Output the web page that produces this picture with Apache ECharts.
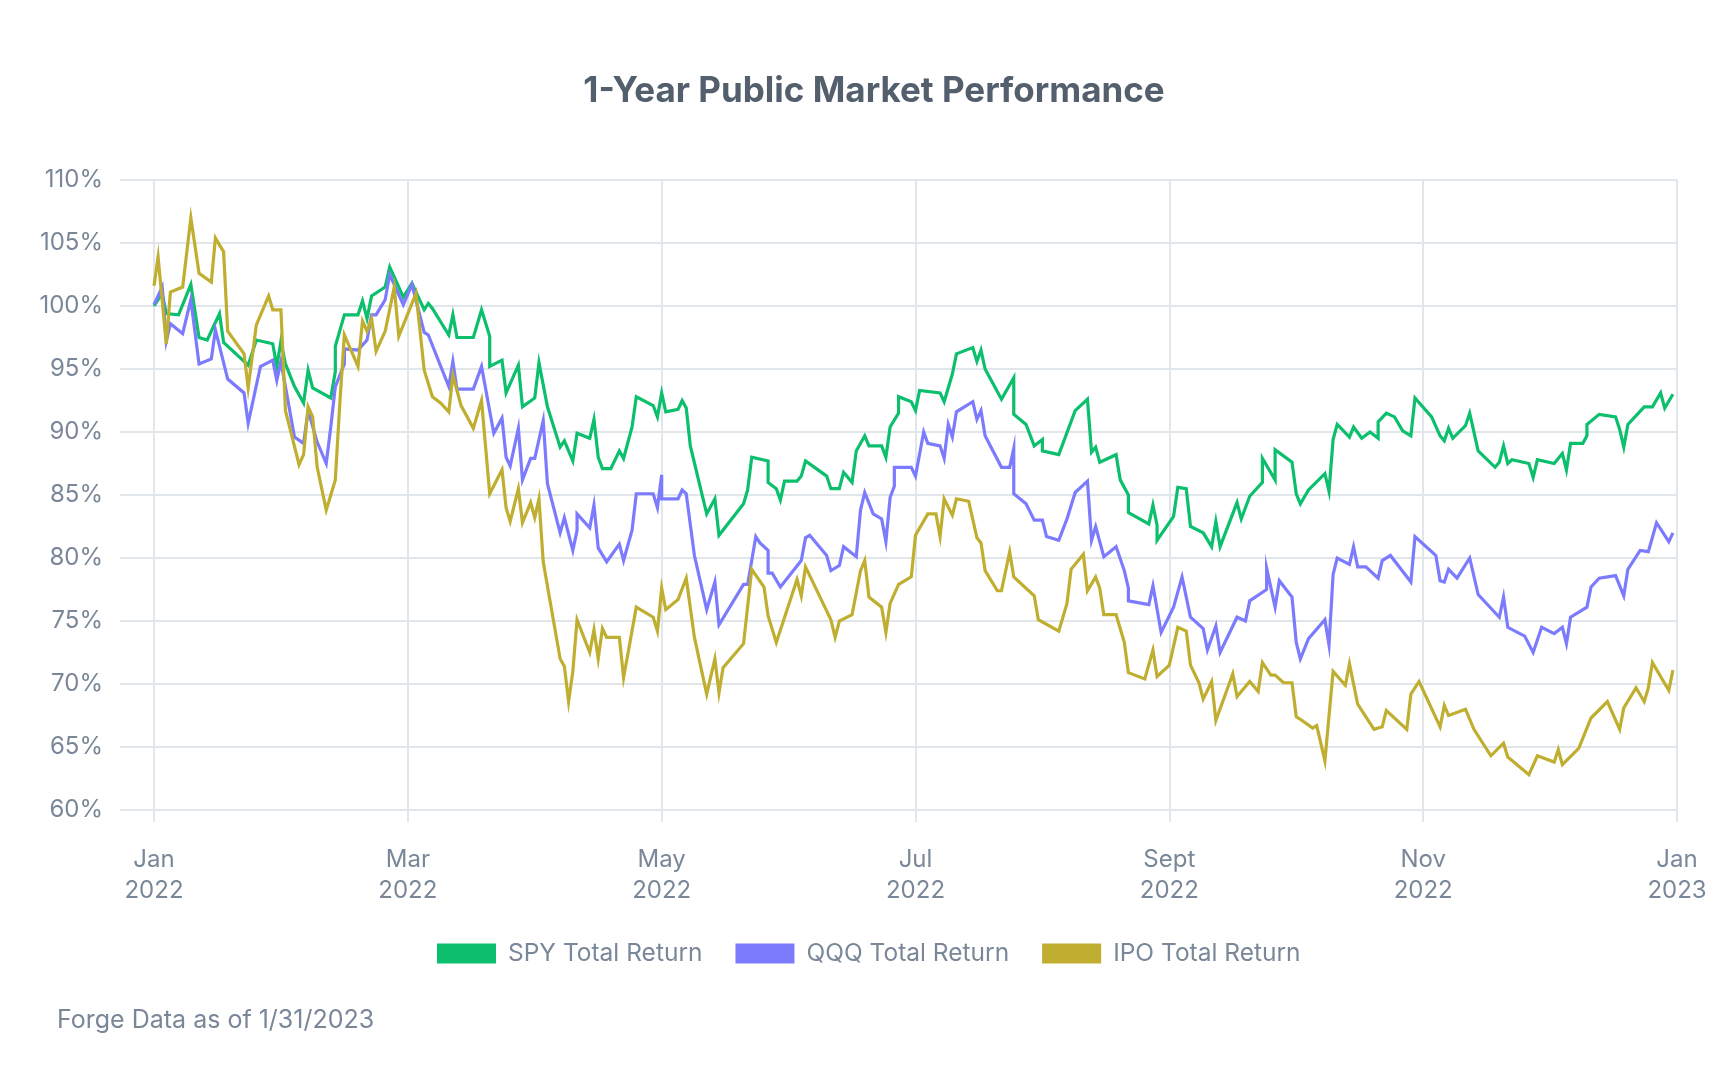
<!DOCTYPE html>
<html>
<head>
<meta charset="utf-8">
<script src="https://cdn.jsdelivr.net/npm/echarts@6/dist/echarts.min.js"></script>
<style>
html,body{margin:0;padding:0;background:#fff;}
#chart{width:1728px;height:1066px;}
</style>
</head>
<body>
<div id="chart"></div>
<script>
const seriesNames = ['SPY Total Return', 'QQQ Total Return', 'IPO Total Return'];
const tickLabels = ['Jan\n2022', 'Mar\n2022', 'May\n2022', 'Jul\n2022', 'Sept\n2022', 'Nov\n2022', 'Jan\n2023'];
const yTicks = [60, 65, 70, 75, 80, 85, 90, 95, 100, 105, 110];

const spy = [
['2022-01-01',100.0],['2022-01-03',101.0],['2022-01-04',99.4],['2022-01-07',99.3],['2022-01-10',101.7],['2022-01-12',97.5],['2022-01-14',97.3],['2022-01-17',99.4],['2022-01-18',97.1],['2022-01-24',95.3],['2022-01-26',97.3],['2022-01-30',97.0],['2022-01-31',95.2],
['2022-02-01',97.2],['2022-02-02',95.4],['2022-02-04',93.6],['2022-02-06',92.3],['2022-02-07',94.9],['2022-02-08',93.5],['2022-02-12',92.7],['2022-02-13',94.8],['2022-02-13',96.8],['2022-02-15',99.3],['2022-02-18',99.3],['2022-02-19',100.4],['2022-02-20',99.0],['2022-02-21',100.8],['2022-02-24',101.5],['2022-02-25',103.1],['2022-02-26',102.3],['2022-02-28',100.7],
['2022-03-02',101.8],['2022-03-05',99.7],['2022-03-06',100.2],['2022-03-07',99.8],['2022-03-11',97.7],['2022-03-12',99.3],['2022-03-13',97.5],['2022-03-17',97.5],['2022-03-19',99.7],['2022-03-21',97.6],['2022-03-21',95.2],['2022-03-24',95.7],['2022-03-25',93.1],['2022-03-28',95.3],['2022-03-29',92.0],
['2022-04-01',92.7],['2022-04-02',95.5],['2022-04-04',92.0],['2022-04-07',88.8],['2022-04-08',89.3],['2022-04-10',87.7],['2022-04-11',89.9],['2022-04-14',89.5],['2022-04-15',91.0],['2022-04-16',88.0],['2022-04-17',87.1],['2022-04-19',87.1],['2022-04-21',88.5],['2022-04-22',87.9],['2022-04-24',90.4],['2022-04-25',92.8],['2022-04-29',92.1],['2022-04-30',91.2],
['2022-05-01',93.1],['2022-05-02',91.6],['2022-05-05',91.8],['2022-05-06',92.5],['2022-05-07',91.9],['2022-05-08',88.9],['2022-05-12',83.5],['2022-05-14',84.7],['2022-05-15',81.8],['2022-05-21',84.3],['2022-05-22',85.4],['2022-05-23',88.0],['2022-05-27',87.7],['2022-05-27',86.0],['2022-05-29',85.5],['2022-05-30',84.6],['2022-05-31',86.1],
['2022-06-03',86.1],['2022-06-04',86.5],['2022-06-05',87.7],['2022-06-10',86.5],['2022-06-11',85.5],['2022-06-13',85.5],['2022-06-14',86.8],['2022-06-16',86.0],['2022-06-17',88.5],['2022-06-19',89.7],['2022-06-20',88.9],['2022-06-23',88.9],['2022-06-24',88.0],['2022-06-25',90.4],['2022-06-27',91.5],['2022-06-27',92.8],['2022-06-30',92.4],
['2022-07-01',91.7],['2022-07-02',93.3],['2022-07-07',93.1],['2022-07-08',92.4],['2022-07-10',94.6],['2022-07-11',96.2],['2022-07-15',96.7],['2022-07-16',95.6],['2022-07-17',96.5],['2022-07-18',95.0],['2022-07-22',92.6],['2022-07-25',94.3],['2022-07-25',91.4],['2022-07-28',90.6],['2022-07-30',88.9],
['2022-08-01',89.4],['2022-08-01',88.5],['2022-08-05',88.2],['2022-08-09',91.7],['2022-08-12',92.6],['2022-08-13',88.4],['2022-08-14',88.8],['2022-08-15',87.6],['2022-08-19',88.2],['2022-08-20',86.2],['2022-08-22',85.0],['2022-08-22',83.6],['2022-08-27',82.7],['2022-08-28',84.2],['2022-08-29',82.6],['2022-08-29',81.4],
['2022-09-02',83.3],['2022-09-03',85.6],['2022-09-05',85.5],['2022-09-06',82.5],['2022-09-09',82.0],['2022-09-11',80.9],['2022-09-12',82.9],['2022-09-13',80.9],['2022-09-17',84.4],['2022-09-18',83.1],['2022-09-20',84.9],['2022-09-23',86.0],['2022-09-23',87.9],['2022-09-26',86.2],['2022-09-26',88.6],['2022-09-30',87.6],
['2022-10-01',85.1],['2022-10-02',84.3],['2022-10-04',85.4],['2022-10-08',86.7],['2022-10-09',85.3],['2022-10-10',89.4],['2022-10-11',90.6],['2022-10-14',89.6],['2022-10-15',90.4],['2022-10-17',89.5],['2022-10-19',90.0],['2022-10-21',89.5],['2022-10-21',90.8],['2022-10-23',91.5],['2022-10-25',91.2],['2022-10-27',90.1],['2022-10-29',89.7],['2022-10-30',92.7],
['2022-11-03',91.2],['2022-11-05',89.7],['2022-11-06',89.3],['2022-11-07',90.3],['2022-11-08',89.5],['2022-11-11',90.5],['2022-11-12',91.5],['2022-11-14',88.5],['2022-11-18',87.2],['2022-11-19',87.6],['2022-11-20',88.9],['2022-11-21',87.5],['2022-11-22',87.8],['2022-11-26',87.5],['2022-11-27',86.4],['2022-11-28',87.8],
['2022-12-02',87.5],['2022-12-04',88.3],['2022-12-05',87.0],['2022-12-06',89.1],['2022-12-09',89.1],['2022-12-10',89.7],['2022-12-10',90.6],['2022-12-13',91.4],['2022-12-17',91.2],['2022-12-18',90.2],['2022-12-19',88.8],['2022-12-20',90.6],['2022-12-24',92.0],['2022-12-26',92.0],['2022-12-28',93.1],['2022-12-29',91.9],['2022-12-31',93.0]
];

const qqq = [
['2022-01-01',100.1],['2022-01-03',101.5],['2022-01-04',97.2],['2022-01-05',98.6],['2022-01-08',97.8],['2022-01-10',100.5],['2022-01-12',95.4],['2022-01-15',95.8],['2022-01-16',98.1],['2022-01-19',94.2],['2022-01-23',93.1],['2022-01-24',90.7],['2022-01-27',95.2],['2022-01-30',95.7],['2022-01-31',94.1],
['2022-02-01',95.6],['2022-02-04',89.6],['2022-02-06',89.1],['2022-02-07',91.7],['2022-02-09',89.2],['2022-02-11',87.5],['2022-02-12',90.4],['2022-02-13',93.6],['2022-02-15',95.4],['2022-02-15',96.6],['2022-02-18',96.5],['2022-02-20',97.3],['2022-02-21',99.3],['2022-02-22',99.3],['2022-02-24',100.5],['2022-02-25',102.5],['2022-02-28',100.1],
['2022-03-02',101.7],['2022-03-05',97.9],['2022-03-06',97.7],['2022-03-11',93.6],['2022-03-12',95.6],['2022-03-13',93.4],['2022-03-17',93.4],['2022-03-19',95.2],['2022-03-22',89.9],['2022-03-24',91.1],['2022-03-25',88.0],['2022-03-26',87.3],['2022-03-28',90.3],['2022-03-29',86.2],['2022-03-31',87.9],
['2022-04-01',87.9],['2022-04-03',90.9],['2022-04-04',85.9],['2022-04-07',82.0],['2022-04-08',83.2],['2022-04-10',80.6],['2022-04-11',82.2],['2022-04-11',83.5],['2022-04-14',82.4],['2022-04-15',84.2],['2022-04-16',80.8],['2022-04-18',79.7],['2022-04-21',81.1],['2022-04-22',79.8],['2022-04-24',82.2],['2022-04-25',85.1],['2022-04-29',85.1],['2022-04-30',84.0],
['2022-05-01',86.6],['2022-05-01',84.7],['2022-05-05',84.7],['2022-05-06',85.4],['2022-05-07',85.1],['2022-05-09',80.2],['2022-05-12',75.9],['2022-05-14',78.1],['2022-05-15',74.7],['2022-05-21',77.9],['2022-05-22',77.9],['2022-05-24',81.7],['2022-05-25',81.2],['2022-05-27',80.6],['2022-05-27',78.8],['2022-05-28',78.8],['2022-05-30',77.7],
['2022-06-04',79.8],['2022-06-05',81.6],['2022-06-06',81.8],['2022-06-10',80.2],['2022-06-11',79.0],['2022-06-13',79.4],['2022-06-14',80.9],['2022-06-17',80.1],['2022-06-18',83.8],['2022-06-19',85.2],['2022-06-21',83.5],['2022-06-23',83.1],['2022-06-24',81.3],['2022-06-25',84.8],['2022-06-26',85.7],['2022-06-26',87.2],['2022-06-30',87.2],
['2022-07-01',86.5],['2022-07-03',90.0],['2022-07-04',89.1],['2022-07-07',88.9],['2022-07-08',87.9],['2022-07-09',90.6],['2022-07-10',89.6],['2022-07-11',91.6],['2022-07-15',92.4],['2022-07-16',91.0],['2022-07-17',91.7],['2022-07-18',89.7],['2022-07-22',87.2],['2022-07-24',87.2],['2022-07-25',88.7],['2022-07-25',85.1],['2022-07-28',84.3],['2022-07-30',83.0],
['2022-08-01',83.0],['2022-08-02',81.7],['2022-08-05',81.4],['2022-08-07',83.1],['2022-08-09',85.2],['2022-08-12',86.1],['2022-08-13',81.4],['2022-08-14',82.5],['2022-08-16',80.1],['2022-08-19',80.9],['2022-08-21',79.0],['2022-08-22',77.6],['2022-08-22',76.6],['2022-08-27',76.3],['2022-08-28',77.8],['2022-08-30',74.1],
['2022-09-02',76.1],['2022-09-04',78.5],['2022-09-06',75.3],['2022-09-09',74.4],['2022-09-10',72.7],['2022-09-12',74.6],['2022-09-13',72.5],['2022-09-17',75.3],['2022-09-19',75.0],['2022-09-20',76.6],['2022-09-24',77.5],['2022-09-24',79.2],['2022-09-26',76.1],['2022-09-27',78.2],['2022-09-30',76.9],
['2022-10-01',73.3],['2022-10-02',72.0],['2022-10-04',73.6],['2022-10-08',75.1],['2022-10-09',73.1],['2022-10-10',78.7],['2022-10-11',80.0],['2022-10-14',79.5],['2022-10-15',80.9],['2022-10-16',79.3],['2022-10-18',79.3],['2022-10-21',78.4],['2022-10-22',79.8],['2022-10-24',80.2],['2022-10-29',78.1],['2022-10-30',81.7],
['2022-11-04',80.2],['2022-11-05',78.2],['2022-11-06',78.1],['2022-11-07',79.1],['2022-11-09',78.4],['2022-11-12',80.0],['2022-11-14',77.1],['2022-11-19',75.3],['2022-11-20',76.9],['2022-11-21',74.5],['2022-11-25',73.8],['2022-11-27',72.5],['2022-11-29',74.5],
['2022-12-02',74.0],['2022-12-04',74.5],['2022-12-05',73.2],['2022-12-06',75.3],['2022-12-10',76.1],['2022-12-11',77.7],['2022-12-13',78.4],['2022-12-17',78.6],['2022-12-19',77.0],['2022-12-20',79.1],['2022-12-23',80.6],['2022-12-25',80.5],['2022-12-27',82.8],['2022-12-30',81.3],['2022-12-31',82.0]
];

const ipo = [
['2022-01-01',101.6],['2022-01-02',103.9],['2022-01-04',97.0],['2022-01-05',101.1],['2022-01-08',101.5],['2022-01-10',107.0],['2022-01-12',102.6],['2022-01-15',101.9],['2022-01-16',105.4],['2022-01-18',104.3],['2022-01-19',98.0],['2022-01-23',96.2],['2022-01-24',93.5],['2022-01-26',98.5],['2022-01-29',100.8],['2022-01-30',99.7],
['2022-02-01',99.7],['2022-02-02',91.7],['2022-02-05',87.4],['2022-02-06',88.2],['2022-02-07',92.0],['2022-02-08',91.2],['2022-02-09',87.2],['2022-02-11',83.8],['2022-02-13',86.2],['2022-02-14',92.3],['2022-02-15',97.7],['2022-02-18',95.2],['2022-02-19',98.8],['2022-02-20',98.0],['2022-02-21',99.0],['2022-02-22',96.4],['2022-02-24',98.0],['2022-02-26',101.5],['2022-02-27',97.6],
['2022-03-03',101.0],['2022-03-05',94.9],['2022-03-07',92.8],['2022-03-09',92.3],['2022-03-11',91.6],['2022-03-12',94.5],['2022-03-14',92.1],['2022-03-17',90.3],['2022-03-19',92.5],['2022-03-21',85.1],['2022-03-24',87.0],['2022-03-25',84.0],['2022-03-26',82.9],['2022-03-28',85.5],['2022-03-29',82.8],['2022-03-31',84.4],
['2022-04-01',83.2],['2022-04-02',84.7],['2022-04-03',79.7],['2022-04-07',72.0],['2022-04-08',71.4],['2022-04-09',68.6],['2022-04-10',71.0],['2022-04-11',75.1],['2022-04-14',72.5],['2022-04-15',74.3],['2022-04-16',72.0],['2022-04-17',74.4],['2022-04-18',73.7],['2022-04-21',73.7],['2022-04-22',70.5],['2022-04-25',76.1],['2022-04-29',75.3],['2022-04-30',74.2],
['2022-05-01',77.6],['2022-05-02',75.9],['2022-05-05',76.7],['2022-05-07',78.4],['2022-05-09',73.7],['2022-05-12',69.2],['2022-05-14',72.0],['2022-05-15',69.3],['2022-05-16',71.3],['2022-05-21',73.2],['2022-05-23',79.1],['2022-05-26',77.7],['2022-05-27',75.4],['2022-05-29',73.3],
['2022-06-03',78.3],['2022-06-04',77.0],['2022-06-05',79.3],['2022-06-10',75.8],['2022-06-11',75.1],['2022-06-12',73.7],['2022-06-13',75.0],['2022-06-16',75.5],['2022-06-18',79.0],['2022-06-19',79.8],['2022-06-20',76.9],['2022-06-23',76.1],['2022-06-24',74.1],['2022-06-25',76.4],['2022-06-27',77.9],['2022-06-30',78.5],
['2022-07-01',81.8],['2022-07-04',83.5],['2022-07-06',83.5],['2022-07-07',81.7],['2022-07-08',84.7],['2022-07-10',83.4],['2022-07-11',84.7],['2022-07-14',84.5],['2022-07-16',81.6],['2022-07-17',81.2],['2022-07-18',79.0],['2022-07-21',77.4],['2022-07-22',77.4],['2022-07-24',80.5],['2022-07-25',78.5],['2022-07-30',77.0],['2022-07-31',75.1],
['2022-08-05',74.2],['2022-08-07',76.4],['2022-08-08',79.1],['2022-08-11',80.3],['2022-08-12',77.4],['2022-08-14',78.5],['2022-08-15',77.6],['2022-08-16',75.5],['2022-08-19',75.5],['2022-08-21',73.3],['2022-08-22',70.9],['2022-08-26',70.4],['2022-08-28',72.7],['2022-08-29',70.6],
['2022-09-01',71.5],['2022-09-03',74.5],['2022-09-05',74.2],['2022-09-06',71.5],['2022-09-08',70.1],['2022-09-09',68.8],['2022-09-11',70.2],['2022-09-12',67.1],['2022-09-16',70.8],['2022-09-17',69.0],['2022-09-20',70.2],['2022-09-22',69.4],['2022-09-23',71.7],['2022-09-25',70.7],['2022-09-26',70.7],['2022-09-28',70.1],['2022-09-30',70.1],
['2022-10-01',67.4],['2022-10-02',67.2],['2022-10-05',66.5],['2022-10-06',66.7],['2022-10-08',63.9],['2022-10-10',71.0],['2022-10-13',69.9],['2022-10-14',71.6],['2022-10-16',68.4],['2022-10-20',66.4],['2022-10-22',66.6],['2022-10-23',67.9],['2022-10-28',66.4],['2022-10-29',69.2],['2022-10-31',70.2],
['2022-11-05',66.6],['2022-11-06',68.3],['2022-11-07',67.5],['2022-11-11',68.0],['2022-11-13',66.4],['2022-11-17',64.3],['2022-11-20',65.3],['2022-11-21',64.2],['2022-11-26',62.8],['2022-11-28',64.3],
['2022-12-02',63.8],['2022-12-03',64.8],['2022-12-04',63.6],['2022-12-08',64.9],['2022-12-11',67.3],['2022-12-15',68.6],['2022-12-18',66.4],['2022-12-19',68.1],['2022-12-22',69.7],['2022-12-24',68.6],['2022-12-25',69.7],['2022-12-26',71.7],['2022-12-30',69.5],['2022-12-31',71.1]
];

const colors = ['#0BBF6D', '#7C7BFE', '#BFAE30'];
const gridColor = '#e1e6eb';
const labelColor = '#7a8798';
const FONT = 'Inter, Roboto, sans-serif';

// months are equally spaced on the axis: position = month index + fraction of month
function monthPos(dateStr) {
  const [y, m, d] = dateStr.split('-').map(Number);
  const dim = new Date(Date.UTC(y, m, 0)).getUTCDate();
  return (y - 2022) * 12 + (m - 1) + (d - 1) / dim;
}
const toXY = arr => arr.map(([d, v]) => [monthPos(d), v]);

const chart = echarts.init(document.getElementById('chart'), null, {renderer: 'canvas'});
const option = {
  animation: false,
  backgroundColor: '#ffffff',
  title: {
    text: '1-Year Public Market Performance',
    left: 869, top: 69, textAlign: 'center',
    textStyle: {fontFamily: FONT, fontSize: 35, fontWeight: 'bold', color: '#535f6d'}
  },
  legend: {
    data: seriesNames,
    left: 437, top: 941, padding: 0,
    icon: 'rect', itemWidth: 59, itemHeight: 20, itemGap: 33,
    textStyle: {fontFamily: FONT, fontSize: 24.5, color: labelColor, padding: [0, 0, 0, 7]}
  },
  graphic: [{
    type: 'text', left: 57, top: 1008,
    style: {text: 'Forge Data as of 1/31/2023', fontFamily: FONT, fontSize: 25, fill: labelColor}
  }],
  grid: [
    {left: 120, right: 51, top: 180, bottom: 256},
    {left: 154, right: 51, top: 180, bottom: 256}
  ],
  xAxis: [
    {gridIndex: 0, type: 'value', min: 0, max: 1, show: false},
    {
      gridIndex: 1, type: 'value', min: 0, max: 12, interval: 2,
      axisLine: {show: false},
      axisTick: {show: true, length: 12, lineStyle: {color: gridColor, width: 2}},
      splitLine: {show: true, lineStyle: {color: gridColor, width: 2}},
      axisLabel: {
        margin: 34, fontFamily: FONT, fontSize: 24, lineHeight: 31, color: labelColor,
        formatter: v => tickLabels[Math.round(v / 2)]
      }
    }
  ],
  yAxis: [
    {
      gridIndex: 0, type: 'value', min: yTicks[0], max: yTicks[yTicks.length - 1], interval: 5,
      axisLine: {show: false}, axisTick: {show: false},
      splitLine: {show: true, lineStyle: {color: gridColor, width: 2}},
      axisLabel: {margin: 17, fontFamily: FONT, fontSize: 24, color: labelColor, formatter: '{value}%'}
    },
    {gridIndex: 1, type: 'value', min: yTicks[0], max: yTicks[yTicks.length - 1], show: false}
  ],
  series: [spy, qqq, ipo].map((arr, i) => ({
    name: seriesNames[i],
    type: 'line',
    xAxisIndex: 1, yAxisIndex: 1,
    data: toXY(arr),
    showSymbol: false,
    symbol: 'none',
    color: colors[i],
    lineStyle: {color: colors[i], width: 3.2, join: 'miter'},
    itemStyle: {color: colors[i]}
  }))
};
chart.setOption(option);
</script>
</body>
</html>
